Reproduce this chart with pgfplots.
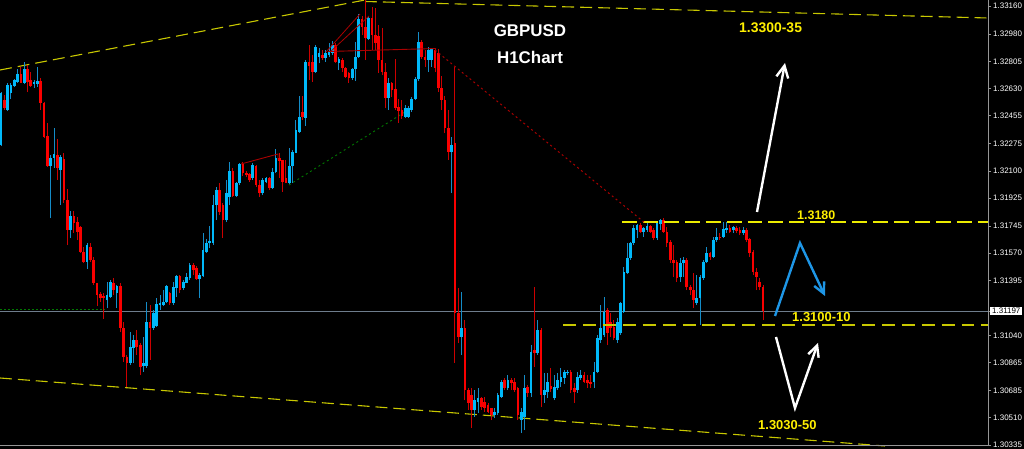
\documentclass[border=0pt]{standalone}
\usepackage{pgfplots}
\pgfplotsset{compat=1.18}
\usepackage{pgfplotstable}
\usepackage{fontspec}
\setmainfont{Liberation Sans}
\usetikzlibrary{arrows.meta}

\definecolor{bull}{RGB}{0,185,250}
\definecolor{bear}{RGB}{250,0,0}
\definecolor{bullwick}{RGB}{20,140,200}
\definecolor{bearwick}{RGB}{205,0,0}
\definecolor{chan}{RGB}{200,200,0}
\definecolor{lvl}{RGB}{235,235,0}
\definecolor{txtyel}{RGB}{255,240,0}
\definecolor{pricegray}{RGB}{110,125,140}
\definecolor{axgray}{RGB}{150,150,150}
\definecolor{arrowblue}{RGB}{30,150,230}
\definecolor{trendred}{RGB}{170,0,0}
\definecolor{trendgreen}{RGB}{0,120,0}

\pgfplotstableread{
i o h l c
0 1.32266 1.32607 1.32259 1.32601
1 1.32556 1.32588 1.32492 1.32504
2 1.32492 1.32666 1.32485 1.32653
3 1.32601 1.32666 1.32562 1.32653
4 1.32646 1.32691 1.32640 1.32685
5 1.32672 1.32756 1.32666 1.32723
6 1.32723 1.32769 1.32666 1.32666
7 1.32666 1.32801 1.32659 1.32756
8 1.32756 1.32782 1.32607 1.32672
9 1.32685 1.32736 1.32640 1.32646
10 1.32659 1.32685 1.32633 1.32672
11 1.32659 1.32769 1.32640 1.32678
12 1.32678 1.32698 1.32492 1.32537
13 1.32537 1.32543 1.32311 1.32318
14 1.32324 1.32408 1.32125 1.32131
15 1.32131 1.32202 1.31796 1.32183
16 1.32183 1.32376 1.32118 1.32208
17 1.32202 1.32305 1.32041 1.32118
18 1.32105 1.32202 1.31880 1.32189
19 1.32176 1.32215 1.31893 1.31912
20 1.31912 1.31983 1.31622 1.31719
21 1.31719 1.31841 1.31667 1.31809
22 1.31809 1.31841 1.31700 1.31764
23 1.31770 1.31803 1.31654 1.31706
24 1.31738 1.31745 1.31571 1.31577
25 1.31577 1.31609 1.31506 1.31513
26 1.31513 1.31635 1.31468 1.31622
27 1.31609 1.31635 1.31513 1.31526
28 1.31526 1.31545 1.31365 1.31378
29 1.31378 1.31378 1.31229 1.31300
30 1.31306 1.31319 1.31255 1.31281
31 1.31294 1.31313 1.31146 1.31281
32 1.31268 1.31384 1.31216 1.31300
33 1.31287 1.31397 1.31281 1.31384
34 1.31378 1.31410 1.31300 1.31332
35 1.31313 1.31365 1.31216 1.31358
36 1.31358 1.31378 1.31062 1.31087
37 1.31087 1.31126 1.30869 1.30901
38 1.30901 1.30914 1.30708 1.30863
39 1.30863 1.31062 1.30850 1.30965
40 1.30959 1.31043 1.30863 1.31010
41 1.31010 1.31075 1.30914 1.30965
42 1.30978 1.30991 1.30785 1.30837
43 1.30843 1.31030 1.30805 1.30863
44 1.30843 1.31255 1.30830 1.31126
45 1.31126 1.31236 1.30882 1.31087
46 1.31087 1.31204 1.31075 1.31184
47 1.31101 1.31281 1.31094 1.31242
48 1.31236 1.31300 1.31204 1.31249
49 1.31236 1.31332 1.31229 1.31255
50 1.31255 1.31365 1.31249 1.31358
51 1.31313 1.31319 1.31236 1.31249
52 1.31249 1.31384 1.31236 1.31352
53 1.31345 1.31429 1.31287 1.31423
54 1.31423 1.31429 1.31313 1.31332
55 1.31345 1.31397 1.31332 1.31384
56 1.31378 1.31442 1.31378 1.31416
57 1.31410 1.31506 1.31397 1.31493
58 1.31493 1.31506 1.31429 1.31461
59 1.31474 1.31487 1.31397 1.31403
60 1.31403 1.31442 1.31281 1.31429
61 1.31423 1.31700 1.31416 1.31590
62 1.31577 1.31661 1.31571 1.31635
63 1.31635 1.31745 1.31603 1.31648
64 1.31635 1.31944 1.31622 1.31880
65 1.31880 1.31996 1.31783 1.31976
66 1.31976 1.32021 1.31815 1.31835
67 1.31880 1.31893 1.31667 1.31783
68 1.31783 1.32041 1.31770 1.31957
69 1.31931 1.32157 1.31880 1.32099
70 1.32099 1.32118 1.31931 1.31938
71 1.31938 1.32028 1.31931 1.32021
72 1.32021 1.32150 1.32009 1.32144
73 1.32144 1.32157 1.32067 1.32086
74 1.32086 1.32099 1.32060 1.32073
75 1.32079 1.32086 1.32028 1.32041
76 1.32054 1.32150 1.32041 1.32137
77 1.32131 1.32137 1.31996 1.32009
78 1.32009 1.32041 1.31931 1.31957
79 1.31957 1.32054 1.31944 1.32041
80 1.32028 1.32060 1.32021 1.32054
81 1.32054 1.32060 1.31976 1.31989
82 1.31989 1.32118 1.31983 1.32092
83 1.32092 1.32240 1.32086 1.32183
84 1.32183 1.32215 1.32054 1.32163
85 1.32170 1.32170 1.31964 1.32028
86 1.32054 1.32170 1.32021 1.32021
87 1.32021 1.32247 1.32015 1.32131
88 1.32131 1.32234 1.32021 1.32221
89 1.32215 1.32427 1.32215 1.32363
90 1.32350 1.32582 1.32343 1.32447
91 1.32479 1.32582 1.32427 1.32447
92 1.32440 1.32814 1.32389 1.32801
93 1.32801 1.32910 1.32685 1.32775
94 1.32801 1.32846 1.32672 1.32736
95 1.32736 1.32910 1.32730 1.32897
96 1.32833 1.32891 1.32794 1.32859
97 1.32846 1.32878 1.32814 1.32826
98 1.32826 1.32878 1.32801 1.32859
99 1.32846 1.32923 1.32833 1.32865
100 1.32859 1.32936 1.32846 1.32910
101 1.32910 1.32923 1.32794 1.32801
102 1.32794 1.32833 1.32749 1.32820
103 1.32814 1.32826 1.32736 1.32762
104 1.32762 1.32769 1.32698 1.32704
105 1.32730 1.32736 1.32666 1.32698
106 1.32698 1.32762 1.32685 1.32756
107 1.32756 1.32930 1.32678 1.32833
108 1.32833 1.33110 1.32826 1.33078
109 1.33078 1.33097 1.32975 1.33026
110 1.33026 1.33199 1.32814 1.32955
111 1.32949 1.33097 1.32942 1.33084
112 1.33084 1.33155 1.32878 1.32975
113 1.32975 1.33148 1.32878 1.32923
114 1.32968 1.33039 1.32730 1.32814
115 1.32814 1.33020 1.32717 1.32736
116 1.32736 1.32794 1.32504 1.32569
117 1.32569 1.32698 1.32492 1.32666
118 1.32666 1.32672 1.32575 1.32620
119 1.32627 1.32820 1.32492 1.32504
120 1.32511 1.32562 1.32408 1.32485
121 1.32492 1.32556 1.32434 1.32453
122 1.32447 1.32524 1.32440 1.32504
123 1.32447 1.32517 1.32440 1.32504
124 1.32492 1.32575 1.32479 1.32562
125 1.32562 1.32704 1.32556 1.32691
126 1.32691 1.32994 1.32678 1.32930
127 1.32930 1.32942 1.32820 1.32833
128 1.32833 1.32878 1.32769 1.32814
129 1.32814 1.32897 1.32736 1.32878
130 1.32814 1.32891 1.32769 1.32884
131 1.32878 1.32891 1.32736 1.32762
132 1.32859 1.32884 1.32607 1.32633
133 1.32633 1.32711 1.32492 1.32556
134 1.32556 1.32582 1.32343 1.32376
135 1.32376 1.32492 1.32170 1.32221
136 1.32221 1.32318 1.31957 1.32266
137 1.32279 1.32769 1.30863 1.31184
138 1.31184 1.31345 1.30991 1.31030
139 1.31030 1.31319 1.30914 1.31087
140 1.31087 1.31139 1.30624 1.30688
141 1.30688 1.30701 1.30560 1.30605
142 1.30656 1.30701 1.30444 1.30560
143 1.30560 1.30688 1.30515 1.30624
144 1.30611 1.30701 1.30540 1.30637
145 1.30637 1.30643 1.30560 1.30579
146 1.30611 1.30643 1.30547 1.30572
147 1.30592 1.30605 1.30540 1.30547
148 1.30572 1.30572 1.30495 1.30527
149 1.30527 1.30572 1.30508 1.30547
150 1.30540 1.30669 1.30527 1.30656
151 1.30643 1.30753 1.30637 1.30740
152 1.30753 1.30766 1.30688 1.30701
153 1.30701 1.30785 1.30688 1.30753
154 1.30753 1.30766 1.30688 1.30734
155 1.30740 1.30766 1.30676 1.30688
156 1.30701 1.30708 1.30495 1.30527
157 1.30495 1.30572 1.30411 1.30547
158 1.30515 1.30785 1.30431 1.30701
159 1.30708 1.30721 1.30643 1.30669
160 1.30669 1.30978 1.30643 1.30933
161 1.30946 1.31352 1.30837 1.30927
162 1.30927 1.31139 1.30914 1.31075
163 1.31075 1.31087 1.30579 1.30656
164 1.30656 1.30798 1.30605 1.30688
165 1.30676 1.30798 1.30637 1.30740
166 1.30714 1.30830 1.30676 1.30695
167 1.30637 1.30785 1.30624 1.30708
168 1.30701 1.30798 1.30688 1.30753
169 1.30740 1.30830 1.30708 1.30772
170 1.30766 1.30817 1.30727 1.30805
171 1.30798 1.30817 1.30785 1.30805
172 1.30805 1.30817 1.30669 1.30688
173 1.30701 1.30734 1.30605 1.30676
174 1.30688 1.30805 1.30669 1.30772
175 1.30766 1.30817 1.30753 1.30785
176 1.30785 1.30805 1.30734 1.30740
177 1.30753 1.30785 1.30701 1.30734
178 1.30740 1.30785 1.30701 1.30727
179 1.30740 1.30869 1.30701 1.30805
180 1.30805 1.31043 1.30798 1.31023
181 1.31010 1.31236 1.30991 1.31087
182 1.31043 1.31287 1.31030 1.31191
183 1.31204 1.31216 1.30978 1.31055
184 1.31126 1.31184 1.31030 1.31087
185 1.31094 1.31139 1.31010 1.31023
186 1.31010 1.31152 1.30991 1.31126
187 1.31055 1.31255 1.31043 1.31249
188 1.31191 1.31481 1.31184 1.31448
189 1.31442 1.31635 1.31435 1.31538
190 1.31538 1.31642 1.31526 1.31635
191 1.31635 1.31751 1.31622 1.31732
192 1.31719 1.31757 1.31667 1.31751
193 1.31751 1.31764 1.31700 1.31706
194 1.31706 1.31738 1.31674 1.31732
195 1.31719 1.31770 1.31706 1.31745
196 1.31745 1.31751 1.31700 1.31706
197 1.31719 1.31732 1.31654 1.31667
198 1.31667 1.31770 1.31654 1.31764
199 1.31757 1.31790 1.31719 1.31783
200 1.31783 1.31796 1.31700 1.31706
201 1.31706 1.31738 1.31609 1.31635
202 1.31642 1.31654 1.31506 1.31526
203 1.31526 1.31622 1.31416 1.31506
204 1.31513 1.31526 1.31384 1.31410
205 1.31416 1.31539 1.31384 1.31506
206 1.31506 1.31545 1.31416 1.31526
207 1.31526 1.31539 1.31332 1.31352
208 1.31352 1.31365 1.31300 1.31332
209 1.31332 1.31442 1.31216 1.31268
210 1.31249 1.31429 1.31236 1.31281
211 1.31281 1.31429 1.31107 1.31416
212 1.31410 1.31526 1.31397 1.31513
213 1.31513 1.31609 1.31506 1.31571
214 1.31571 1.31577 1.31526 1.31545
215 1.31545 1.31674 1.31538 1.31654
216 1.31654 1.31732 1.31642 1.31674
217 1.31674 1.31700 1.31654 1.31667
218 1.31674 1.31770 1.31667 1.31725
219 1.31719 1.31770 1.31700 1.31732
220 1.31732 1.31751 1.31700 1.31706
221 1.31719 1.31745 1.31700 1.31738
222 1.31732 1.31745 1.31700 1.31712
223 1.31719 1.31738 1.31687 1.31700
224 1.31700 1.31738 1.31687 1.31719
225 1.31719 1.31732 1.31642 1.31654
226 1.31661 1.31667 1.31545 1.31571
227 1.31577 1.31590 1.31429 1.31448
228 1.31448 1.31474 1.31332 1.31416
229 1.31384 1.31410 1.31332 1.31352
230 1.31352 1.31365 1.31139 1.31197
}\candles

\begin{document}
\begin{tikzpicture}
\fill[black] (0bp,0bp) rectangle (1024bp,449bp);
% background objects (under the candles)
\begin{scope}[x=1bp,y=1bp]
\draw[pricegray, line width=0.9] (0,138) -- (988,138);
\draw[trendgreen, line width=0.9, dash pattern=on 2 off 2] (0,139.5) -- (105,139.5);
\draw[chan, line width=1.1, dash pattern=on 12 off 6] (0,379) -- (365,449);
\draw[chan, line width=1.1, dash pattern=on 12 off 6] (365,447.5) -- (988,431);
\draw[chan, line width=1.1, dash pattern=on 12 off 6] (0,71) -- (885,3);
\draw[trendgreen, line width=0.9, dash pattern=on 2 off 3] (289,264) -- (408,339);
\end{scope}
\begin{axis}[
  at={(0bp,3bp)}, anchor=south west, scale only axis,
  width=988bp, height=446bp,
  xmin=-0.302, xmax=297.9, ymin=1.30328, ymax=1.33200,
  axis x line*=bottom, axis y line*=right,
  axis line style={draw=axgray, line width=1bp, -},
  xtick=\empty, scaled y ticks=false,
  ytick={1.30335,1.30510,1.30685,1.30865,1.31040,1.31395,1.31570,1.31745,1.31925,1.32100,1.32275,1.32455,1.32630,1.32805,1.32980,1.33160},
  yticklabels={1.30335,1.30510,1.30685,1.30865,1.31040,1.31395,1.31570,1.31745,1.31925,1.32100,1.32275,1.32455,1.32630,1.32805,1.32980,1.33160},
  tick align=outside, major tick length=3bp,
  tick style={draw=axgray, line width=0.6bp},
  yticklabel style={font=\fontsize{8}{9}\selectfont, text=white, inner xsep=1bp, inner ysep=1.5bp, xshift=1bp},
  extra y ticks={1.31197}, extra y tick labels={1.31197},
  extra y tick style={yticklabel style={fill=white, text=black, xshift=-2bp, inner xsep=2bp}},
]
% wicks
\addplot[bullwick, line width=1bp, quiver={u=0, v=\thisrow{h}-\thisrow{l}},
  restrict expr to domain={\thisrow{c}-\thisrow{o}}{0:1}] table[x=i, y=l] {\candles};
\addplot[bearwick, line width=1bp, quiver={u=0, v=\thisrow{h}-\thisrow{l}},
  restrict expr to domain={\thisrow{c}-\thisrow{o}}{-1:0}] table[x=i, y=l] {\candles};
% bodies
\addplot[bull, line width=2.7bp, quiver={u=0, v=\thisrow{c}-\thisrow{o}},
  restrict expr to domain={\thisrow{c}-\thisrow{o}}{0:1}] table[x=i, y=o] {\candles};
\addplot[bear, line width=2.7bp, quiver={u=0, v=\thisrow{c}-\thisrow{o}},
  restrict expr to domain={\thisrow{c}-\thisrow{o}}{-1:0}] table[x=i, y=o] {\candles};
\end{axis}
% foreground objects
\begin{scope}[x=1bp,y=1bp]
\draw[lvl, line width=1.1, dash pattern=on 15 off 6] (622,227) -- (988,227);
\draw[chan, line width=1.1, dash pattern=on 13 off 7] (563,124) -- (988,124);
\draw[trendred, line width=1, dash pattern=on 2 off 3] (435,399) -- (645,226);
\draw[trendred, line width=0.9] (328,397.5) -- (436,400.5);
\draw[trendred, line width=0.8] (326,397) -- (360,435);
\draw[trendred, line width=0.8] (330,397) -- (369,433);
\draw[trendred, line width=0.9] (241,285) -- (278,295) -- (278,289);
\draw[white, line width=2.4, -{Straight Barb[length=12bp, width=12bp]}] (757,237) -- (785,386);
\draw[arrowblue, line width=2.4, -{Straight Barb[length=11bp, width=11bp]}] (775,133) -- (800,206) -- (825,153);
\draw[white, line width=2.4, -{Straight Barb[length=11bp, width=11bp]}] (776,112) -- (795,41) -- (818,106);
\node[anchor=base, inner sep=0, text=white, font=\bfseries\fontsize{17}{20}\selectfont] at (530,412) {GBPUSD};
\node[anchor=base, inner sep=0, text=white, font=\bfseries\fontsize{17}{20}\selectfont] at (530,386) {H1Chart};
\node[anchor=base west, inner sep=0, text=txtyel, font=\bfseries\fontsize{14}{16}\selectfont] at (739,416) {1.3300-35};
\node[anchor=base west, inner sep=0, text=txtyel, font=\bfseries\fontsize{12.5}{15}\selectfont] at (797,230) {1.3180};
\node[anchor=base west, inner sep=0, text=txtyel, font=\bfseries\fontsize{13}{15}\selectfont] at (792,128) {1.3100-10};
\node[anchor=base west, inner sep=0, text=txtyel, font=\bfseries\fontsize{13}{15}\selectfont] at (758,20) {1.3030-50};
\end{scope}
\pgfresetboundingbox
\useasboundingbox (0bp,0bp) rectangle (1024bp,449bp);
\end{tikzpicture}
\end{document}
